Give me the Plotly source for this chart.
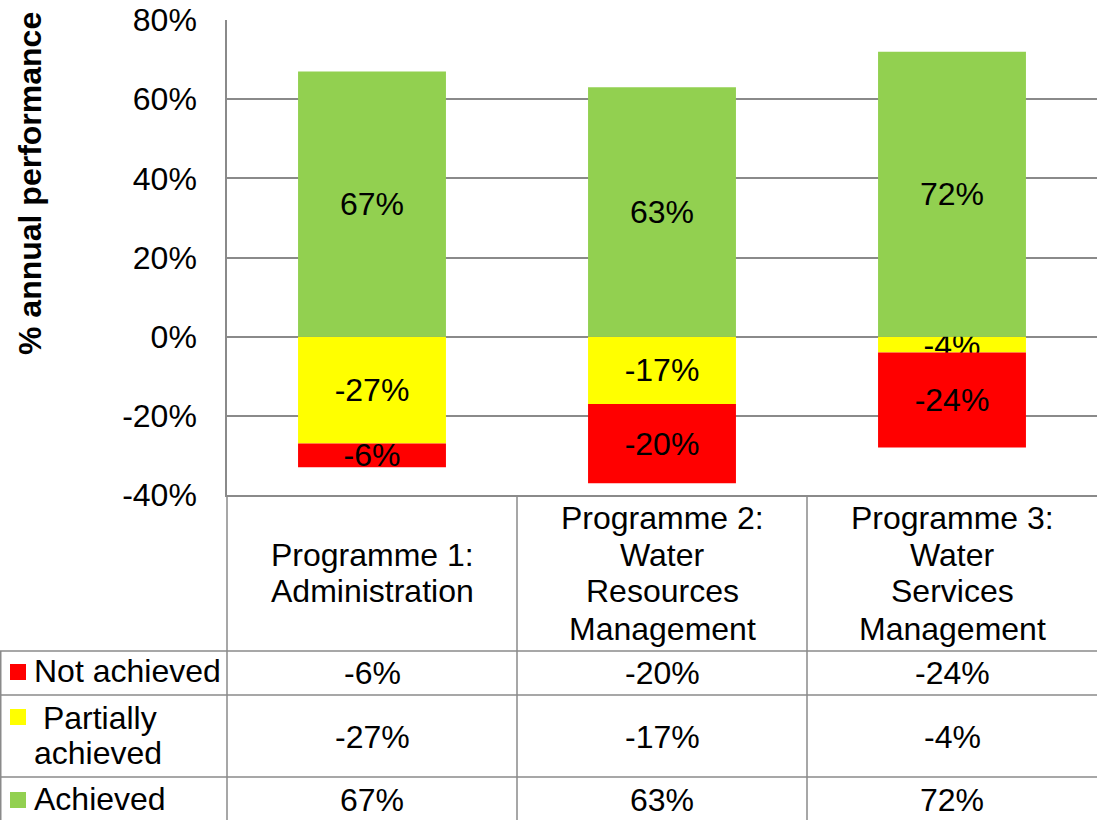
import plotly.graph_objects as go

# ---------------- data ----------------
categories = ["Programme 1:<br>Administration",
              "Programme 2:<br>Water<br>Resources<br>Management",
              "Programme 3:<br>Water<br>Services<br>Management"]
series_names = ["Not achieved", "Partially achieved", "Achieved"]
not_achieved = [-6, -20, -24]
partially_achieved = [-27, -17, -4]
achieved = [67, 63, 72]
y_tickvals = [80, 60, 40, 20, 0, -20, -40]
y_ticktext = ["80%", "60%", "40%", "20%", "0%", "-20%", "-40%"]
y_title = "% annual performance"

# ---------------- style ----------------
W, H = 1097, 820
L, T, B = 227, 20, 495          # plot area (px)
FONT = "Liberation Sans, Arial, sans-serif"
FS = 32
GRID = "#8a8a8a"
colors = {"Not achieved": "#FF0000", "Partially achieved": "#FFFF00", "Achieved": "#92D050"}


def px_x(x):
    return (x - L) / (W - L)


def px_y(y):
    return (B - y) / (B - T)


xidx = list(range(len(categories)))
fig = go.Figure()
# negatives stack in trace order: partially first (next to 0), then not achieved
for name, vals in [("Partially achieved", partially_achieved),
                   ("Not achieved", not_achieved),
                   ("Achieved", achieved)]:
    fig.add_trace(go.Bar(
        x=xidx, y=vals, name=name, width=0.51,
        marker=dict(color=colors[name], line=dict(width=0)),
        text=[f"{v}%" for v in vals], textposition="inside",
        insidetextanchor="middle", textangle=0, constraintext="none",
        textfont=dict(family=FONT, size=FS, color="black"),
        hoverinfo="skip", cliponaxis=False,
    ))

shapes = []
annotations = []


def hline(y, x0, x1):
    shapes.append(dict(type="line", xref="paper", yref="paper",
                       x0=px_x(x0), x1=px_x(x1), y0=px_y(y), y1=px_y(y),
                       line=dict(color=GRID, width=1.5)))


def vline(x, y0, y1):
    shapes.append(dict(type="line", xref="paper", yref="paper",
                       x0=px_x(x), x1=px_x(x), y0=px_y(y0), y1=px_y(y1),
                       line=dict(color=GRID, width=1.5)))


def text(x, y, s, xanchor="center", bold=False, angle=0):
    annotations.append(dict(xref="paper", yref="paper", x=px_x(x), y=px_y(y),
                            text=f"<b>{s}</b>" if bold else s, showarrow=False,
                            xanchor=xanchor, yanchor="middle", textangle=angle,
                            font=dict(family=FONT, size=FS, color="black")))


col_w = (W - L) / len(categories)
row_lines = [651, 695, 777]
# table grid
vline(L, B, H)
for i in range(1, len(categories)):
    vline(L + i * col_w, B, H)
vline(0.75, row_lines[0], H)
for yl in row_lines:
    hline(yl, 0, W)

# category labels (header)
for i, c in enumerate(categories):
    lines = c.split("<br>")
    n = len(lines)
    cx = L + (i + 0.5) * col_w
    for k, ln in enumerate(lines):
        text(cx, 573 + (k - (n - 1) / 2) * 37, ln)

# table rows
rows = [("Not achieved", not_achieved, 673),
        ("Partially achieved", partially_achieved, 737),
        ("Achieved", achieved, 800)]
for name, vals, yc in rows:
    for i, v in enumerate(vals):
        text(L + (i + 0.5) * col_w, yc, f"{v}%")

# row headers with legend keys
key_y = {"Not achieved": 672, "Partially achieved": 717, "Achieved": 800}
for name in series_names:
    ky = key_y[name]
    shapes.append(dict(type="rect", xref="paper", yref="paper",
                       x0=px_x(10), x1=px_x(26), y0=px_y(ky - 8), y1=px_y(ky + 8),
                       fillcolor=colors[name], line=dict(width=0)))
text(32, 671, "Not achieved", xanchor="left")
text(32, 718, "\u00a0Partially", xanchor="left")
text(32, 753, "achieved", xanchor="left")
text(32, 799, "Achieved", xanchor="left")

# y axis title
text(30, 184, y_title, bold=True, angle=-90)

fig.update_layout(
    width=W, height=H,
    margin=dict(l=L, r=0, t=T, b=H - B, pad=0),
    paper_bgcolor="white", plot_bgcolor="white",
    barmode="relative", bargap=0.49, showlegend=False,
    font=dict(family=FONT, size=FS, color="black"),
    xaxis=dict(type="linear", range=[-0.5, len(categories) - 0.5],
               showticklabels=False, showgrid=False, zeroline=False,
               showline=True, linecolor=GRID, linewidth=1.5, ticks=""),
    yaxis=dict(range=[-40, 80], tickvals=y_tickvals, ticktext=y_ticktext,
               showgrid=True, gridcolor=GRID, gridwidth=1.5, zeroline=False,
               showline=True, linecolor=GRID, linewidth=1.5, ticks="",
               ticklabelstandoff=22,
               tickfont=dict(family=FONT, size=FS, color="black")),
    shapes=shapes, annotations=annotations,
)

fig.write_html("out.html", config={"displayModeBar": False},
               post_script="document.body.style.margin='0';"
                           "document.body.style.overflow='hidden';")
